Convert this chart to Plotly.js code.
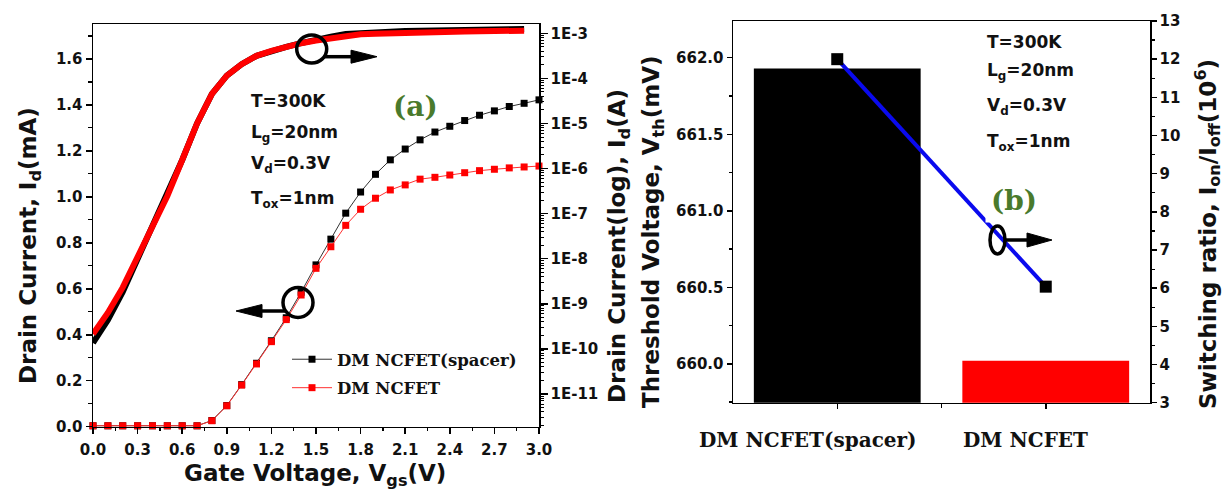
<!DOCTYPE html>
<html>
<head>
<meta charset="utf-8">
<script src="https://cdn.plot.ly/plotly-3.0.1.min.js"></script>
<style>
  html, body { margin: 0; padding: 0; background: #ffffff; }
  #chart { width: 1227px; height: 493px; }
</style>
</head>
<body>
<div id="chart"></div>
<script>
// ---- (a) transfer characteristics ----
// Gate voltage sweep for the linear-scale drain current (V)
const gateVoltage = [0.0, 0.1, 0.2, 0.3, 0.4, 0.5, 0.6, 0.7, 0.8, 0.9, 1.0, 1.1, 1.2, 1.3, 1.4, 1.5,
  1.6, 1.7, 1.8, 1.9, 2.0, 2.1, 2.2, 2.3, 2.4, 2.5, 2.6, 2.7, 2.8, 2.9, 3.0];
// Linear drain current (mA)
const idLinSpacer = [0.004, 0.004, 0.004, 0.004, 0.004, 0.004, 0.004, 0.004, 0.027, 0.092, 0.183, 0.276,
  0.374, 0.474, 0.585, 0.704, 0.816, 0.929, 1.021, 1.098, 1.161, 1.208, 1.248, 1.282, 1.307, 1.332,
  1.355, 1.374, 1.393, 1.407, 1.422];
const idLinPlain = [0.004, 0.004, 0.004, 0.004, 0.004, 0.004, 0.004, 0.004, 0.026, 0.091, 0.181, 0.273,
  0.370, 0.466, 0.573, 0.689, 0.783, 0.876, 0.946, 0.994, 1.030, 1.052, 1.077, 1.085, 1.095, 1.105,
  1.114, 1.120, 1.126, 1.130, 1.134];

// Gate voltage sweep for the log-scale drain current (V)
const gateVoltageLog = [0.0, 0.1, 0.2, 0.3, 0.4, 0.5, 0.6, 0.7, 0.8, 0.9, 1.0, 1.1, 1.2, 1.3, 1.4, 1.5,
  1.6, 1.7, 1.8, 1.9, 2.0, 2.1, 2.2, 2.3, 2.4, 2.5, 2.6, 2.7, 2.8, 2.9];
// Log-scale drain current (A)
const idLogSpacer = [1.36e-10, 4.40e-10, 1.84e-9, 9.91e-9, 4.82e-8, 2.47e-7, 1.55e-6, 1.0e-5, 4.51e-5,
  1.15e-4, 2.06e-4, 3.16e-4, 4.06e-4, 4.99e-4, 6.03e-4, 7.41e-4, 8.41e-4, 9.59e-4, 1.023e-3, 1.054e-3,
  1.086e-3, 1.122e-3, 1.151e-3, 1.164e-3, 1.178e-3, 1.191e-3, 1.202e-3, 1.216e-3, 1.230e-3, 1.245e-3];
const idLogPlain = [2.15e-10, 6.35e-10, 2.31e-9, 1.15e-8, 5.07e-8, 2.47e-7, 1.55e-6, 1.0e-5, 4.51e-5,
  1.15e-4, 2.06e-4, 3.16e-4, 4.06e-4, 4.99e-4, 6.03e-4, 6.89e-4, 7.83e-4, 8.93e-4, 9.51e-4, 9.79e-4,
  1.009e-3, 1.042e-3, 1.069e-3, 1.079e-3, 1.091e-3, 1.102e-3, 1.107e-3, 1.119e-3, 1.130e-3, 1.143e-3];

const logTickValues = [1e-11, 1e-10, 1e-9, 1e-8, 1e-7, 1e-6, 1e-5, 1e-4, 1e-3];
const logTickLabels = ['1E-11', '1E-10', '1E-9', '1E-8', '1E-7', '1E-6', '1E-5', '1E-4', '1E-3'];

// ---- (b) device comparison ----
const devices = ['DM NCFET(spacer)', 'DM NCFET'];
const thresholdVoltage = [661.93, 660.02];   // mV
const switchingRatio = [12.0, 6.04];         // x 10^6

// ---- helpers: pixel -> paper coordinates ----
const W = 1227, H = 493;
const px = x => x / W;
const py = y => 1 - y / H;

const SANS = 'DejaVu Sans';
const SERIF = 'DejaVu Serif';
const INK = '#111111';
const tickFont = { family: SANS, size: 15, weight: 'bold', color: INK };

// minor ticks of the log axis (2..9 in every decade)
const minorLogTicks = [];
for (let e = -12; e <= -3; e++) {
  for (let m = 2; m <= 9; m++) minorLogTicks.push(m * Math.pow(10, e));
}

const deviceIndex = devices.map((_, i) => i);

const traces = [
  { x: gateVoltage, y: idLinSpacer, xaxis: 'x', yaxis: 'y', type: 'scatter', mode: 'lines+markers',
    name: 'DM NCFET(spacer)', legendgroup: 'a', cliponaxis: false,
    line: { color: '#333333', width: 1 }, marker: { symbol: 'square', size: 7, color: '#000000' } },
  { x: gateVoltage, y: idLinPlain, xaxis: 'x', yaxis: 'y', type: 'scatter', mode: 'lines+markers',
    name: 'DM NCFET', legendgroup: 'b', cliponaxis: false,
    line: { color: '#ff3030', width: 1 }, marker: { symbol: 'square', size: 7, color: '#ff0000' } },
  { x: gateVoltageLog, y: idLogSpacer, xaxis: 'x', yaxis: 'y2', type: 'scatter', mode: 'lines',
    showlegend: false, line: { color: '#000000', width: 6 } },
  { x: gateVoltageLog, y: idLogPlain, xaxis: 'x', yaxis: 'y2', type: 'scatter', mode: 'lines',
    showlegend: false, line: { color: '#ff0000', width: 6 } },
  { x: deviceIndex, y: thresholdVoltage, xaxis: 'x2', yaxis: 'y3', type: 'bar',
    width: 0.8, showlegend: false, marker: { color: ['#000000', '#ff0000'] } },
  { x: deviceIndex, y: switchingRatio, xaxis: 'x2', yaxis: 'y4', type: 'scatter',
    mode: 'lines+markers', showlegend: false, cliponaxis: false,
    line: { color: '#0a0aee', width: 4 }, marker: { symbol: 'square', size: 12, color: '#000000' } }
];

const axisBase = {
  showline: true, linewidth: 1.5, linecolor: '#000000', showgrid: false, zeroline: false,
  ticks: 'outside', tickwidth: 1.5, tickcolor: '#000000', tickfont: tickFont
};

function arrow(xFrom, xTo, y, head, halfH) {
  const dir = Math.sign(xTo - xFrom);
  const base = xTo - dir * head;
  return [
    { type: 'line', xref: 'paper', yref: 'paper', x0: px(xFrom), x1: px(base + dir * 2), y0: py(y), y1: py(y),
      line: { color: '#000000', width: 3.5 } },
    { type: 'path', xref: 'paper', yref: 'paper', fillcolor: '#000000', line: { color: '#000000', width: 1 },
      path: `M ${px(base)},${py(y - halfH)} L ${px(xTo)},${py(y)} L ${px(base)},${py(y + halfH)} Z` }
  ];
}

function ring(x0, x1, y0, y1) {
  return { type: 'circle', xref: 'paper', yref: 'paper', x0: px(x0), x1: px(x1), y0: py(y1), y1: py(y0),
    line: { color: '#000000', width: 3.5 } };
}

const shapes = [
  ring(296.7, 326.7, 35, 63),
  ...arrow(324, 377, 56.7, 26, 6.5),
  ring(283, 313, 287.5, 317.5),
  ...arrow(285, 236, 311, 26, 6.5),
  ring(990, 1005, 226, 254),
  ...arrow(1004, 1052, 240, 25, 7)
];

function label(text, x, y, opts) {
  return Object.assign({ text, x: px(x), y: py(y), xref: 'paper', yref: 'paper', showarrow: false,
    xanchor: 'center', yanchor: 'middle', font: { family: SANS, size: 17, weight: 'bold', color: INK } }, opts || {});
}
const titleFont = { family: SANS, size: 23, weight: 'bold', color: INK };
const condFont = { family: SANS, size: 17, weight: 'bold', color: INK };
const tagFont = { family: SERIF, size: 28, weight: 'bold', color: '#4a7a2c' };
const deviceFont = { family: SERIF, size: 20, weight: 'bold', color: INK };

// device names under the bars, set slightly left of each bar centre
const deviceShift = [-29, -20];
const deviceLabels = devices.map((name, i) => ({
  text: name, x: deviceIndex[i], xref: 'x2', y: py(440), yref: 'paper', xshift: deviceShift[i],
  showarrow: false, xanchor: 'center', yanchor: 'middle', font: deviceFont
}));

const annotations = [
  // axis titles
  label('Drain Current, I<sub>d</sub>(mA)', 30, 246, { textangle: -90, font: titleFont }),
  label('Gate Voltage, V<sub>gs</sub>(V)', 315, 475, { font: titleFont }),
  label('Drain Current(log), I<sub>d</sub>(A)', 619, 246, { textangle: -90, font: titleFont }),
  label('Threshold Voltage, V<sub>th</sub>(mV)', 653, 232, { textangle: -90, font: titleFont }),
  label('Switching ratio, I<sub>on</sub>/I<sub>off</sub>(10<sup>6</sup>)', 1207, 234, { textangle: -90, font: titleFont }),
  // simulation conditions, panel (a)
  label('T=300K', 249, 101.5, { xanchor: 'left', font: condFont }),
  label('L<sub>g</sub>=20nm', 249, 134, { xanchor: 'left', font: condFont }),
  label('V<sub>d</sub>=0.3V', 249, 164, { xanchor: 'left', font: condFont }),
  label('T<sub>ox</sub>=1nm', 249, 199, { xanchor: 'left', font: condFont }),
  // simulation conditions, panel (b)
  label('T=300K', 985, 41.7, { xanchor: 'left', font: condFont }),
  label('L<sub>g</sub>=20nm', 985, 71, { xanchor: 'left', font: condFont }),
  label('V<sub>d</sub>=0.3V', 985, 106.5, { xanchor: 'left', font: condFont }),
  label('T<sub>ox</sub>=1nm', 985, 142.5, { xanchor: 'left', font: condFont }),
  // panel tags
  label('(a)', 415.5, 107, { font: tagFont, bgcolor: '#ffffff', borderpad: 3 }),
  label('(b)', 1014, 200, { font: tagFont, bgcolor: '#ffffff', borderpad: 5 }),
  ...deviceLabels
];

const layout = {
  width: W, height: H,
  margin: { l: 0, r: 0, t: 0, b: 0 },
  paper_bgcolor: '#ffffff', plot_bgcolor: '#ffffff',
  font: { family: SANS, color: INK },
  showlegend: true,
  legend: {
    x: px(287), y: py(342), xanchor: 'left', yanchor: 'top',
    bgcolor: 'rgba(0,0,0,0)', borderwidth: 0,
    font: { family: SERIF, size: 16.5, weight: 'bold', color: INK },
    itemwidth: 40, tracegroupgap: 4
  },
  xaxis: Object.assign({}, axisBase, {
    domain: [px(93), px(539)], anchor: 'y', range: [0, 3], tick0: 0, dtick: 0.3, tickformat: '.1f',
    ticklen: 6, mirror: true, ticklabelstandoff: 3,
    minor: { dtick: 0.15, tick0: 0, ticks: 'outside', ticklen: 3, tickwidth: 1.2, tickcolor: '#000000' }
  }),
  yaxis: Object.assign({}, axisBase, {
    domain: [py(426.7), py(24)], anchor: 'x', range: [0, 1.752], tick0: 0, dtick: 0.2, tickformat: '.1f',
    ticklen: 6,
    minor: { dtick: 0.1, tick0: 0, ticks: 'outside', ticklen: 3.5, tickwidth: 1.2, tickcolor: '#000000' }
  }),
  yaxis2: Object.assign({}, axisBase, {
    overlaying: 'y', side: 'right', anchor: 'x', type: 'log', range: [-11.725, -2.794],
    tickmode: 'array', tickvals: logTickValues, ticktext: logTickLabels, ticklen: 7,
    minor: { tickmode: 'array', tickvals: minorLogTicks, ticks: 'outside', ticklen: 3.5, tickwidth: 1, tickcolor: '#000000' }
  }),
  xaxis2: Object.assign({}, axisBase, {
    domain: [px(733), px(1150)], anchor: 'y3', range: [-0.5, 1.5],
    tickmode: 'array', tickvals: deviceIndex, ticktext: devices, showticklabels: false, ticklen: 5, mirror: true,
    minor: { tickmode: 'array', tickvals: [0.5], ticks: 'outside', ticklen: 4, tickwidth: 1.5, tickcolor: '#000000' }
  }),
  yaxis3: Object.assign({}, axisBase, {
    domain: [py(402.7), py(21)], anchor: 'x2', range: [659.746, 662.24], tick0: 660, dtick: 0.5,
    tickformat: '.1f', ticklen: 5,
    minor: { dtick: 0.25, tick0: 660, ticks: 'outside', ticklen: 3, tickwidth: 1.2, tickcolor: '#000000' }
  }),
  yaxis4: Object.assign({}, axisBase, {
    overlaying: 'y3', side: 'right', anchor: 'x2', range: [3, 13], tick0: 3, dtick: 1, ticklen: 5,
    minor: { dtick: 0.5, tick0: 3, ticks: 'outside', ticklen: 3, tickwidth: 1.2, tickcolor: '#000000' }
  }),
  shapes: shapes,
  annotations: annotations
};

Plotly.newPlot('chart', traces, layout, { displayModeBar: false, staticPlot: true });
</script>
</body>
</html>
